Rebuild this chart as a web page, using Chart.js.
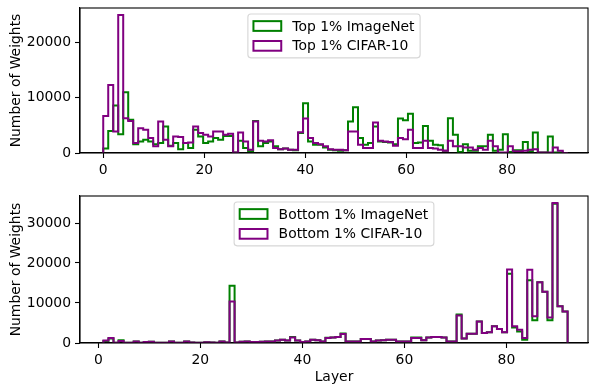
<!DOCTYPE html>
<html>
<head>
<meta charset="utf-8">
<script src="https://cdn.jsdelivr.net/npm/chart.js@4.4.1/dist/chart.umd.min.js"></script>
<style>
  html, body { margin: 0; padding: 0; background: #fff; }
  #wrap { position: relative; width: 589px; height: 390px; }
  canvas { position: absolute; left: 0; }
</style>
</head>
<body>
<div id="wrap">
  <canvas id="topChart" width="589" height="185" style="top:0"></canvas>
  <canvas id="bottomChart" width="589" height="205" style="top:185px"></canvas>
</div>
<script>
// histogram bins: 93 equal bins over layers 0..92
const binWidth = 92 / 93;

const topLabels = ["Top 1% ImageNet", "Top 1% CIFAR-10"];
const bottomLabels = ["Bottom 1% ImageNet", "Bottom 1% CIFAR-10"];

// top plot, bins 0..92
const topImageNet = [800, 4000, 8600, 3400, 11000, 6000, 1600, 2100, 2400, 2100,
  1600, 1800, 4800, 1300, 1800, 700, 1800, 900, 4200, 3000,
  1800, 2100, 2700, 2400, 3100, 3100, 100, 2200, 900, 300,
  5800, 1200, 1800, 2100, 1200, 700, 800, 600, 500, 3600,
  9000, 2100, 1500, 1500, 1000, 600, 500, 400, 500, 5700,
  8300, 2700, 1500, 1800, 4800, 2100, 2000, 1900, 1600, 6250,
  5950, 7100, 1800, 1900, 4900, 2200, 1500, 1400, 400, 6300,
  3300, 200, 1600, 400, 400, 1200, 1200, 3300, 400, 600,
  3400, 200, 500, 500, 2000, 300, 3700, 100, 100, 3000,
  100, 100, 0];
const topCifar = [6700, 12300, 3900, 25000, 6300, 5800, 1800, 4500, 4200, 2700,
  1200, 5700, 2400, 1200, 3000, 2900, 1800, 1900, 4800, 3600,
  3300, 3000, 3900, 3900, 3300, 3500, 100, 3700, 2100, 600,
  5700, 2200, 2100, 2300, 900, 700, 800, 600, 600, 3750,
  6250, 2700, 1800, 1600, 1200, 700, 600, 600, 500, 3900,
  3900, 1500, 900, 900, 5500, 2200, 2100, 2000, 1300, 2700,
  2500, 4200, 900, 900, 2200, 900, 800, 600, 400, 2200,
  1200, 1200, 1000, 1000, 600, 900, 600, 2200, 1200, 100,
  100, 1200, 300, 300, 400, 600, 700, 100, 100, 100,
  1000, 400, 0];

// bottom plot, bins 1..92
const bottomImageNet = [500, 1100, 50, 700, 50, 50, 400, 50, 250, 300,
  50, 50, 50, 400, 50, 50, 350, 100, 50, 50,
  200, 100, 50, 400, 100, 14300, 100, 300, 400, 250,
  250, 300, 400, 400, 600, 800, 600, 1500, 600, 250,
  400, 800, 700, 400, 1300, 1400, 1500, 2350, 400, 400,
  400, 1000, 1000, 400, 600, 700, 800, 800, 400, 400,
  400, 1400, 1400, 700, 1400, 1500, 1500, 1400, 400, 400,
  7100, 1100, 2300, 2300, 5400, 2500, 2700, 4200, 3500, 2700,
  17300, 3900, 2900, 800, 15700, 5700, 15200, 12800, 5700, 34800,
  9200, 7900];
const bottomCifar = [600, 1250, 50, 500, 50, 50, 400, 50, 250, 300,
  50, 50, 50, 400, 50, 50, 350, 100, 50, 50,
  200, 100, 50, 400, 100, 10400, 100, 300, 400, 250,
  250, 300, 400, 400, 600, 800, 600, 1400, 600, 250,
  400, 800, 700, 400, 1250, 1400, 1500, 2250, 400, 400,
  400, 1000, 1000, 400, 600, 700, 800, 800, 400, 400,
  400, 1250, 1250, 700, 1400, 1500, 1500, 1400, 400, 400,
  6900, 1100, 2300, 2300, 5400, 2500, 2700, 4200, 3500, 2700,
  18400, 4200, 3300, 1250, 18300, 6700, 15200, 12800, 6400, 35000,
  9200, 7900];

const topFirstBin = 0;
const bottomFirstBin = 1;

const xTicks = [0, 20, 40, 60, 80];
const topYTicks = [0, 10000, 20000];
const bottomYTicks = [0, 10000, 20000, 30000];

const GREEN = "#008000";
const PURPLE = "#800080";
const FONT = "DejaVu Sans";
const FS = 13.9;

Chart.defaults.font.family = FONT;
Chart.defaults.font.size = FS;
Chart.defaults.color = "#000";

// outline of a step histogram
function stepPoints(values, first) {
  const pts = [{ x: first * binWidth, y: 0 }];
  values.forEach((v, i) => pts.push({ x: (first + i) * binWidth, y: v }));
  const end = (first + values.length) * binWidth;
  pts.push({ x: end, y: values[values.length - 1] });
  pts.push({ x: end, y: 0 });
  return pts;
}

// all four spines
const framePlugin = {
  id: "frame",
  afterDatasetsDraw(chart) {
    const { ctx, chartArea: a } = chart;
    ctx.save();
    ctx.strokeStyle = "#000";
    ctx.lineWidth = 1.1;
    ctx.strokeRect(a.left, a.top, a.right - a.left, a.bottom - a.top);
    ctx.restore();
  }
};

// matplotlib-like legend, upper center
const boxLegend = {
  id: "boxLegend",
  afterDraw(chart, args, opts) {
    const { ctx, chartArea: a } = chart;
    const entries = opts.entries || [];
    ctx.save();
    ctx.font = FS + "px '" + FONT + "'";
    const textW = Math.max(...entries.map(e => ctx.measureText(e.label).width));
    const pad = 0.4 * FS, handleW = 2 * FS, handleH = 0.7 * FS, gap = 0.8 * FS;
    const rowH = 12.9, spacing = 0.5 * FS;
    const w = pad * 2 + handleW + gap + textW;
    const h = pad * 2 + rowH * entries.length + spacing * (entries.length - 1);
    const x0 = (a.left + a.right) / 2 - w / 2;
    const y0 = a.top + 6;
    ctx.beginPath();
    ctx.roundRect(x0, y0, w, h, 3);
    ctx.fillStyle = "rgba(255,255,255,0.8)";
    ctx.fill();
    ctx.strokeStyle = "rgba(204,204,204,0.8)";
    ctx.lineWidth = 1.1;
    ctx.stroke();
    entries.forEach((e, i) => {
      const cy = y0 + pad + rowH / 2 + i * (rowH + spacing);
      ctx.strokeStyle = e.color;
      ctx.lineWidth = 2;
      ctx.strokeRect(x0 + pad, cy - handleH / 2, handleW, handleH);
      ctx.fillStyle = "#000";
      ctx.textBaseline = "middle";
      ctx.textAlign = "left";
      ctx.fillText(e.label, x0 + pad + handleW + gap, cy + 1);
    });
    ctx.restore();
  }
};

function makeChart(canvasId, cfg) {
  const datasets = [
    {
      label: cfg.labels[0],
      data: stepPoints(cfg.imagenet, cfg.first),
      borderColor: GREEN,
      order: 1
    },
    {
      label: cfg.labels[1],
      data: stepPoints(cfg.cifar, cfg.first),
      borderColor: PURPLE,
      order: 0
    }
  ].map(d => Object.assign(d, {
    stepped: true,
    borderWidth: 2,
    pointRadius: 0,
    fill: false,
    tension: 0
  }));

  return new Chart(document.getElementById(canvasId), {
    type: "line",
    data: { datasets },
    options: {
      responsive: false,
      animation: false,
      layout: { padding: { top: cfg.padTop, right: 1, left: 0, bottom: 0 } },
      plugins: {
        legend: { display: false },
        tooltip: { enabled: false },
        boxLegend: {
          entries: [
            { label: cfg.labels[0], color: GREEN },
            { label: cfg.labels[1], color: PURPLE }
          ]
        }
      },
      scales: {
        x: {
          type: "linear",
          min: cfg.xMin,
          max: 96,
          afterBuildTicks: s => { s.ticks = xTicks.map(v => ({ value: v })); },
          afterFit: s => { s.height = cfg.xHeight; s.paddingLeft = 0; s.paddingRight = 0; },
          grid: { drawOnChartArea: false, drawTicks: true, tickLength: 5, tickColor: "#000", tickWidth: 1.1 },
          border: { display: true, color: "#000", width: 1.1 },
          ticks: { padding: 4, maxRotation: 0, color: "#000", callback: v => String(v) },
          title: cfg.xTitle
            ? { display: true, text: cfg.xTitle, color: "#000", padding: { top: 0, bottom: 4 } }
            : { display: false }
        },
        y: {
          min: 0,
          max: cfg.yMax,
          afterBuildTicks: s => { s.ticks = cfg.yTicks.map(v => ({ value: v })); },
          afterFit: s => { s.width = 80; s.paddingTop = 0; s.paddingBottom = 0; },
          grid: { drawOnChartArea: false, drawTicks: true, tickLength: 5, tickColor: "#000", tickWidth: 1.1 },
          border: { display: true, color: "#000", width: 1.1 },
          ticks: { padding: 4, color: "#000", callback: v => String(v) },
          title: { display: true, text: "Number of Weights", color: "#000", padding: { top: 8, bottom: 0 } }
        }
      }
    },
    plugins: [framePlugin, boxLegend]
  });
}

makeChart("topChart", {
  labels: topLabels,
  imagenet: topImageNet,
  cifar: topCifar,
  first: topFirstBin,
  xMin: -4.6,
  yMax: 26250,
  yTicks: topYTicks,
  padTop: 8,
  xHeight: 32,
  xTitle: null
});

makeChart("bottomChart", {
  labels: bottomLabels,
  imagenet: bottomImageNet,
  cifar: bottomCifar,
  first: bottomFirstBin,
  xMin: -3.6,
  yMax: 36750,
  yTicks: bottomYTicks,
  padTop: 11,
  xHeight: 47,
  xTitle: "Layer"
});
</script>
</body>
</html>
